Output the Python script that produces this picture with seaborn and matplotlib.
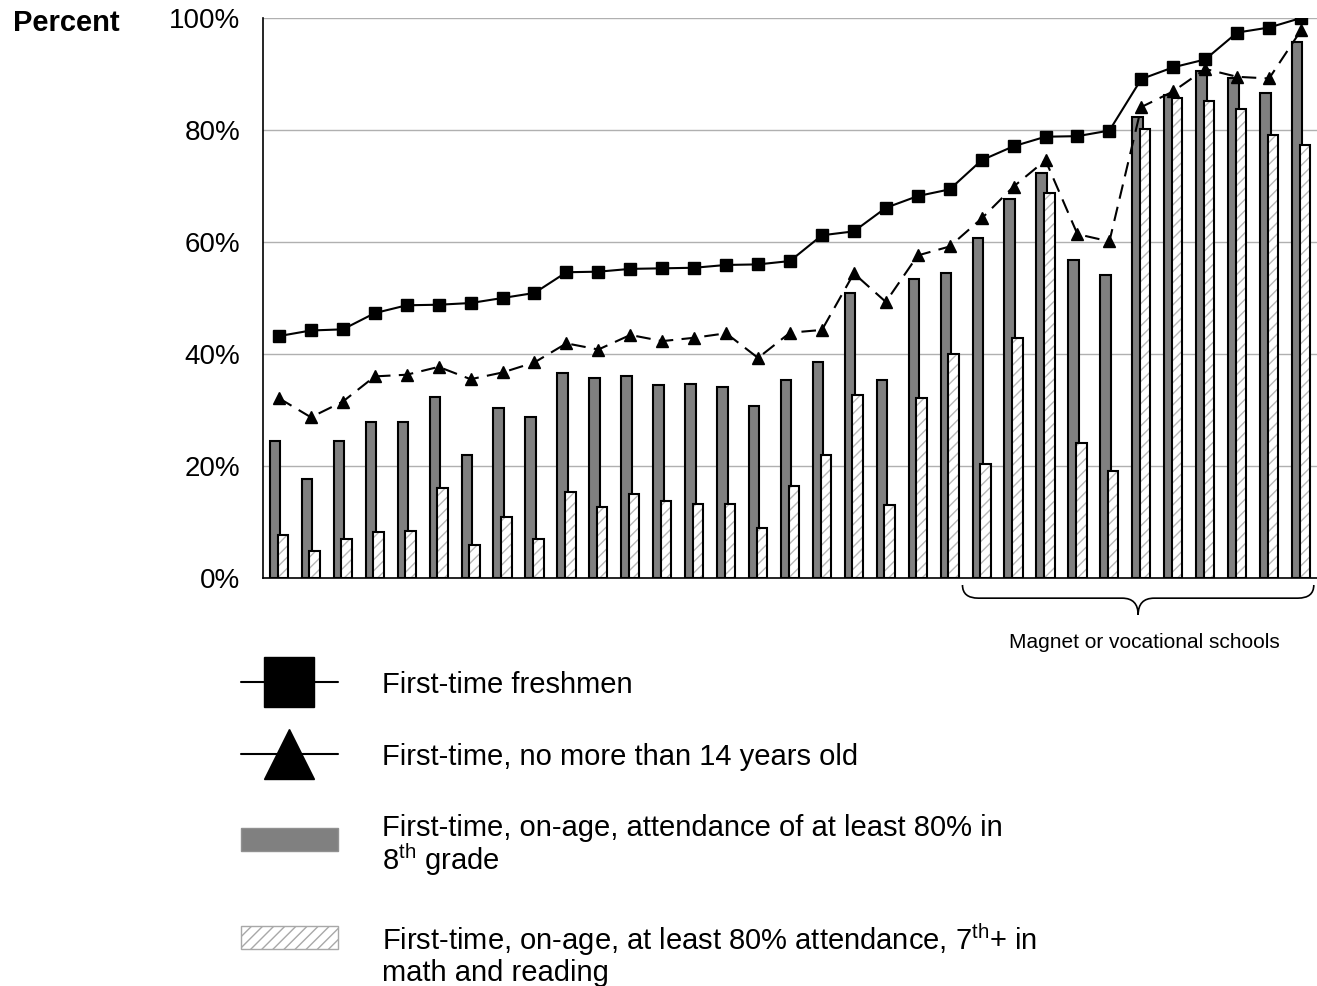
import numpy as np
import pandas as pd
import matplotlib.pyplot as plt
import matplotlib.patches as mpatches
import matplotlib.transforms as mtransforms
from matplotlib.lines import Line2D
from matplotlib.path import Path
import seaborn as sns

# ---------------------------------------------------------------
# data (one value per school)
# ---------------------------------------------------------------
schools = [str(i) for i in range(1, 34)]

freshmen = [43.2, 44.2, 44.4, 47.3, 48.7, 48.8, 49.1, 50.0, 50.9, 54.6, 54.7,
            55.2, 55.3, 55.4, 55.9, 56.0, 56.6, 61.2, 61.9, 66.1, 68.2, 69.4,
            74.6, 77.1, 78.8, 78.9, 79.9, 89.1, 91.2, 92.6, 97.4, 98.3, 100.0]

under_14 = [32.1, 28.7, 31.5, 36.0, 36.3, 37.7, 35.5, 36.7, 38.5, 41.9, 40.8,
            43.4, 42.3, 42.9, 43.7, 39.3, 43.8, 44.3, 54.4, 49.3, 57.6, 59.2,
            64.2, 69.9, 74.6, 61.4, 60.1, 84.1, 86.9, 90.9, 89.5, 89.2, 97.8]

attend_80 = [24.4, 17.6, 24.4, 27.9, 27.9, 32.4, 22.0, 30.4, 28.8, 36.6, 35.7,
             36.1, 34.4, 34.6, 34.1, 30.7, 35.4, 38.6, 50.9, 35.3, 53.4, 54.4,
             60.8, 67.6, 72.4, 56.8, 54.1, 82.3, 86.2, 90.5, 89.3, 86.6, 95.8]

attend_math = [7.6, 4.8, 6.9, 8.2, 8.4, 16.1, 5.9, 10.9, 6.9, 15.4, 12.7,
               15.0, 13.7, 13.3, 13.3, 8.9, 16.5, 22.0, 32.7, 13.0, 32.2, 40.0,
               20.3, 42.9, 68.8, 24.1, 19.1, 80.1, 85.7, 85.1, 83.7, 79.1, 77.4]

labels = [
    "First-time freshmen",
    "First-time, no more than 14 years old",
    "First-time, on-age, attendance of at least 80% in\n8$^{\\mathrm{th}}$ grade",
    "First-time, on-age, at least 80% attendance, 7$^{\\mathrm{th}}$+ in\nmath and reading",
]

bars = pd.DataFrame({
    "school": schools * 2,
    "series": ["attend"] * len(schools) + ["math"] * len(schools),
    "value": attend_80 + attend_math,
})
pts = pd.DataFrame({
    "school": schools * 2,
    "series": ["fresh"] * len(schools) + ["u14"] * len(schools),
    "value": freshmen + under_14,
})

# ---------------------------------------------------------------
# style
# ---------------------------------------------------------------
sns.set_style("white")
plt.rcParams["font.family"] = ["Liberation Sans", "DejaVu Sans"]
plt.rcParams["mathtext.fontset"] = "custom"
plt.rcParams["mathtext.rm"] = "Liberation Sans"
plt.rcParams["hatch.linewidth"] = 1.0
plt.rcParams["text.color"] = "black"
plt.rcParams["xtick.color"] = "black"
plt.rcParams["ytick.color"] = "black"

HATCH_GREY = "#b8b8b8"

fig = plt.figure(figsize=(13.17, 9.86), dpi=100)
ax = fig.add_axes([263 / 1317, 1 - 578 / 986, 1 - 263 / 1317, 560 / 986])

# bars
sns.barplot(data=bars, x="school", y="value", hue="series",
            palette=["#808080", "white"], saturation=1,
            width=0.48, gap=-0.375, edgecolor="black", linewidth=1.5,
            legend=False, ax=ax)

for p in ax.containers[1]:
    p.set_hatch("///")
    p.set_edgecolor(HATCH_GREY)
    p.set_linewidth(0)
    ax.add_patch(mpatches.Rectangle(p.get_xy(), p.get_width(), p.get_height(),
                                    fill=False, edgecolor="black", linewidth=1.5))

# lines
sns.pointplot(data=pts, x="school", y="value", hue="series",
              palette=["black", "black"], markers=["s", "^"],
              linestyles=["-", (0, (7, 4))], errorbar=None, legend=False,
              markersize=8, linewidth=1.5, markeredgewidth=1, ax=ax)

# axes cosmetics
ax.set_xlim(-0.5, len(schools) - 0.5)
ax.set_ylim(0, 100)
ax.set_xlabel("")
ax.set_ylabel("")
ax.set_xticks(np.arange(-0.5, len(schools), 1))
ax.set_xticklabels([])
ax.set_yticks(range(0, 101, 20))
ax.set_yticklabels([f"{v}%" for v in range(0, 101, 20)])
ax.yaxis.grid(True, color="#b0b0b0", linewidth=1)
ax.xaxis.grid(False)
ax.set_axisbelow(True)
for s in ["top", "right"]:
    ax.spines[s].set_visible(False)
for s in ["left", "bottom"]:
    ax.spines[s].set_color("black")
    ax.spines[s].set_linewidth(1.2)
ax.tick_params(axis="y", direction="inout", length=13, width=1.2,
               labelsize=20, pad=10, colors="black")
ax.tick_params(axis="x", direction="inout", length=9, width=1.2, colors="black")

fig.text(13 / 1317, 1 - 23 / 986, "Percent", fontsize=21, fontweight="bold",
         ha="left", va="center", color="black")

# brace under the magnet / vocational schools
x0, x1 = 21.4, 32.4
xm = (x0 + x1) / 2
yt, ym, yb = -0.0125, -0.036, -0.066
verts = [(x0, yt), (x0, ym), (x0 + 0.5, ym), (xm - 0.5, ym), (xm, ym), (xm, yb),
         (xm, ym), (xm + 0.5, ym), (x1 - 0.5, ym), (x1, ym), (x1, yt)]
codes = [Path.MOVETO, Path.CURVE3, Path.CURVE3, Path.LINETO, Path.CURVE3, Path.CURVE3,
         Path.CURVE3, Path.CURVE3, Path.LINETO, Path.CURVE3, Path.CURVE3]
trans = mtransforms.blended_transform_factory(ax.transData, ax.transAxes)
ax.add_patch(mpatches.PathPatch(Path(verts, codes), fill=False, edgecolor="black",
                                linewidth=1.2, transform=trans, clip_on=False))
ax.text(xm + 0.2, -0.116, "Magnet or vocational schools", transform=trans,
        ha="center", va="center", fontsize=15, color="black")

# legend
handles = [
    Line2D([], [], color="black", linewidth=1.5, marker="s", markersize=36),
    Line2D([], [], color="black", linewidth=1.5, marker="^", markersize=36),
    mpatches.Patch(facecolor="#808080", edgecolor="#909090"),
    mpatches.Patch(facecolor="white", edgecolor="#a8a8a8", hatch="///"),
]
leg = fig.legend(handles, labels, loc="upper left",
                 bbox_to_anchor=(241 / 1317, 1 - 671 / 986),
                 frameon=False, fontsize=21, handlelength=3.32, handleheight=0.86,
                 handletextpad=1.5, labelspacing=1.5, borderpad=0, borderaxespad=0,
                 numpoints=1, labelcolor="black")
texts = leg.get_texts()
texts[2].set_linespacing(0.95)
texts[3].set_linespacing(1.045)
texts[0].set_linespacing(0.95)
texts[1].set_linespacing(0.95)

# nudge the two bar swatches up so they sit beside the first label line
rect_a, rect_b = leg.legend_handles[2], leg.legend_handles[3]
rect_a.set_y(rect_a.get_y() + 5.4)
rect_b.set_y(rect_b.get_y() + 12.6)

fig.savefig("out.png", dpi=100)
